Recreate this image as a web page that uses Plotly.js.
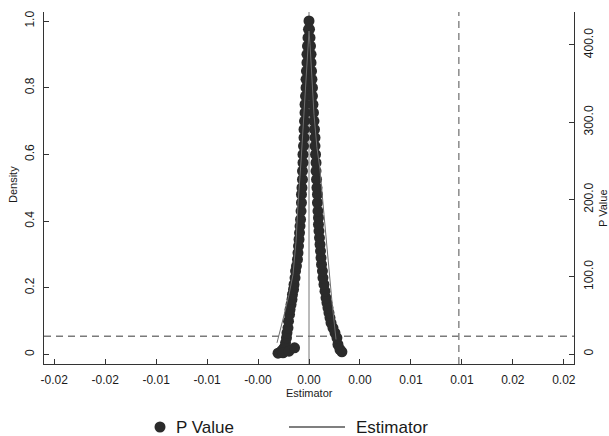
<!DOCTYPE html>
<html>
<head>
<meta charset="utf-8">
<script src="https://cdn.plot.ly/plotly-3.0.1.min.js"></script>
<style>html,body{margin:0;padding:0;background:#fff;}#chart{width:609px;height:436px;}</style>
</head>
<body>
<div id="chart"></div>
<script>
// P-value markers, left branch
const pvalLeftX = [-0.00304,-0.00284,-0.00265,-0.00245,-0.00230,-0.00221,-0.00216,-0.00206,-0.00201,-0.00191,
  -0.00186,-0.00176,-0.00167,-0.00162,-0.00152,-0.00147,-0.00137,-0.00132,-0.00123,-0.00113,
  -0.00108,-0.00103,-0.00098,-0.00093,-0.00088,-0.00083,-0.00078,-0.00074,-0.00074,-0.00069,
  -0.00064,-0.00064,-0.00059,-0.00059,-0.00054,-0.00049,-0.00049,-0.00044,-0.00039,-0.00039,
  -0.00034,-0.00029,-0.00029,-0.00025,-0.00020,-0.00020,-0.00015,-0.00010,-0.00005,0.0,
  -0.00255,-0.00196,-0.00142];
const pvalLeftY = [0.004,0.006,0.012,0.02,0.035,0.05,0.065,0.08,0.10,0.12,
  0.135,0.15,0.165,0.18,0.195,0.21,0.23,0.25,0.265,0.285,
  0.305,0.325,0.345,0.365,0.385,0.405,0.43,0.455,0.48,0.50,
  0.525,0.55,0.575,0.60,0.625,0.65,0.675,0.70,0.725,0.75,
  0.775,0.80,0.825,0.85,0.875,0.90,0.925,0.95,0.975,1.0,
  0.005,0.01,0.02];
// P-value markers, right branch
const pvalRightX = [0.00323,0.00304,0.00284,0.00274,0.00255,0.00235,0.00216,0.00206,0.00196,0.00186,
  0.00176,0.00167,0.00157,0.00147,0.00137,0.00132,0.00123,0.00118,0.00113,0.00108,
  0.00103,0.00098,0.00093,0.00093,0.00088,0.00083,0.00083,0.00078,0.00074,0.00069,
  0.00069,0.00064,0.00059,0.00059,0.00054,0.00049,0.00044,0.00039,0.00034,0.00034,
  0.00029,0.00025,0.00020,0.00020,0.00015,0.00010,0.00005];
const pvalRightY = [0.008,0.015,0.03,0.05,0.065,0.08,0.095,0.11,0.125,0.14,
  0.155,0.17,0.19,0.21,0.23,0.25,0.27,0.29,0.31,0.33,
  0.35,0.37,0.39,0.41,0.43,0.455,0.48,0.50,0.525,0.55,
  0.575,0.60,0.625,0.65,0.675,0.70,0.725,0.75,0.775,0.80,
  0.825,0.85,0.875,0.90,0.925,0.95,0.975];
// Estimator line
const estX = [-0.00314,-0.00274,-0.00235,-0.00196,-0.00157,-0.00127,-0.00108,-0.00078,-0.00049,-0.00029,-0.0001,0.0,
  0.0001,0.00029,0.00049,0.00078,0.00108,0.00147,0.00186,0.00225,0.00265];
const estY = [0.035,0.08,0.13,0.18,0.24,0.34,0.45,0.58,0.72,0.83,0.93,0.97,
  0.93,0.83,0.72,0.62,0.555,0.42,0.285,0.16,0.045];

// axis ticks
const xTickVals = [-0.025,-0.02,-0.015,-0.01,-0.005,0,0.005,0.01,0.015,0.02,0.025];
const xTickText = ["-0.02","-0.02","-0.01","-0.01","-0.00","0.00","0.00","0.01","0.01","0.02","0.02"];
const yTickVals = [0,0.2,0.4,0.6,0.8,1.0];
const yTickText = ["0","0.2","0.4","0.6","0.8","1.0"];
const y2TickVals = [0,100,200,300,400];
const y2TickText = ["0","100.0","200.0","300.0","400.0"];

// reference lines
const pThreshold = 0.055;
const observedEstimate = 0.0147;
const nullValue = 0;

const markerColor = '#2b2b2b';
const font = 'Liberation Sans, Arial, Helvetica, sans-serif';

const traces = [
  {x: pvalLeftX.concat(pvalRightX), y: pvalLeftY.concat(pvalRightY), type: 'scatter', mode: 'markers',
   marker: {color: markerColor, size: 11, line: {width: 0}}, name: 'P Value', showlegend: false,
   xaxis: 'x', yaxis: 'y'},
  {x: estX, y: estY, type: 'scatter', mode: 'lines', line: {color: '#6e6e6e', width: 1},
   name: 'Estimator', showlegend: false, xaxis: 'x', yaxis: 'y'},
  {x: [0], y: [0], type: 'scatter', mode: 'markers', marker: {opacity: 0}, yaxis: 'y2',
   showlegend: false, hoverinfo: 'skip'}
];

const W = 530, H = 352, L = 44, T = 12;
function px(xp){return (xp - L)/W;}
function py(yp){return (T + H - yp)/H;}

const layout = {
  width: 609, height: 436,
  margin: {l: 44, r: 35, t: 12, b: 72},
  paper_bgcolor: '#fff', plot_bgcolor: '#fff',
  showlegend: false,
  font: {family: font, color: '#1a1a1a', size: 12},
  xaxis: {range: [-0.026, 0.026], tickvals: xTickVals, ticktext: xTickText,
    showline: true, linecolor: '#333', linewidth: 1, ticks: 'inside', ticklen: 5, tickcolor: '#333',
    showgrid: false, zeroline: false, tickfont: {size: 12, color: '#1a1a1a'}, ticklabelstandoff: 5},
  yaxis: {range: [-0.0285, 1.027], tickvals: yTickVals, ticktext: yTickText,
    showline: true, linecolor: '#333', linewidth: 1, ticks: 'inside', ticklen: 5, tickcolor: '#333',
    showgrid: false, zeroline: false, tickangle: -90, tickfont: {size: 12, color: '#1a1a1a'}, ticklabelstandoff: 4},
  yaxis2: {range: [-12.9, 442.7], tickvals: y2TickVals, ticktext: y2TickText, overlaying: 'y', side: 'right',
    showline: true, linecolor: '#333', linewidth: 1, ticks: 'inside', ticklen: 5, tickcolor: '#333',
    showgrid: false, zeroline: false, tickangle: -90, tickfont: {size: 12, color: '#1a1a1a'}, ticklabelstandoff: 4},
  shapes: [
    {type: 'line', xref: 'paper', yref: 'y', x0: 0, x1: 1, y0: pThreshold, y1: pThreshold,
     line: {color: '#7a7a7a', width: 1.5, dash: '7px,5px'}, layer: 'below'},
    {type: 'line', xref: 'x', yref: 'paper', x0: observedEstimate, x1: observedEstimate, y0: 0, y1: 1,
     line: {color: '#8a8a8a', width: 1.5, dash: '7px,5px'}, layer: 'below'},
    {type: 'line', xref: 'x', yref: 'paper', x0: nullValue, x1: nullValue, y0: 0, y1: 1,
     line: {color: '#777', width: 1}, layer: 'below'},
    // legend symbols
    {type: 'circle', xref: 'paper', yref: 'paper', x0: px(154.5), x1: px(165.5), y0: py(432.5), y1: py(421.5),
     fillcolor: markerColor, line: {width: 0}},
    {type: 'line', xref: 'paper', yref: 'paper', x0: px(289), x1: px(345), y0: py(427), y1: py(427),
     line: {color: '#555', width: 1.5}}
  ],
  annotations: [
    {text: 'Density', xref: 'paper', yref: 'paper', x: px(13), y: py(185), textangle: -90,
     showarrow: false, font: {size: 11, color: '#1a1a1a'}, xanchor: 'center', yanchor: 'middle'},
    {text: 'P Value', xref: 'paper', yref: 'paper', x: px(603), y: py(208), textangle: -90,
     showarrow: false, font: {size: 11, color: '#1a1a1a'}, xanchor: 'center', yanchor: 'middle'},
    {text: 'Estimator', xref: 'paper', yref: 'paper', x: px(309), y: py(393),
     showarrow: false, font: {size: 11, color: '#1a1a1a'}, xanchor: 'center', yanchor: 'middle'},
    {text: 'P Value', xref: 'paper', yref: 'paper', x: px(174), y: py(427),
     showarrow: false, font: {size: 17, color: '#1a1a1a'}, xanchor: 'left', yanchor: 'middle'},
    {text: 'Estimator', xref: 'paper', yref: 'paper', x: px(354), y: py(427),
     showarrow: false, font: {size: 17, color: '#1a1a1a'}, xanchor: 'left', yanchor: 'middle'}
  ]
};

Plotly.newPlot('chart', traces, layout, {displayModeBar: false, staticPlot: true});
</script>
</body>
</html>
